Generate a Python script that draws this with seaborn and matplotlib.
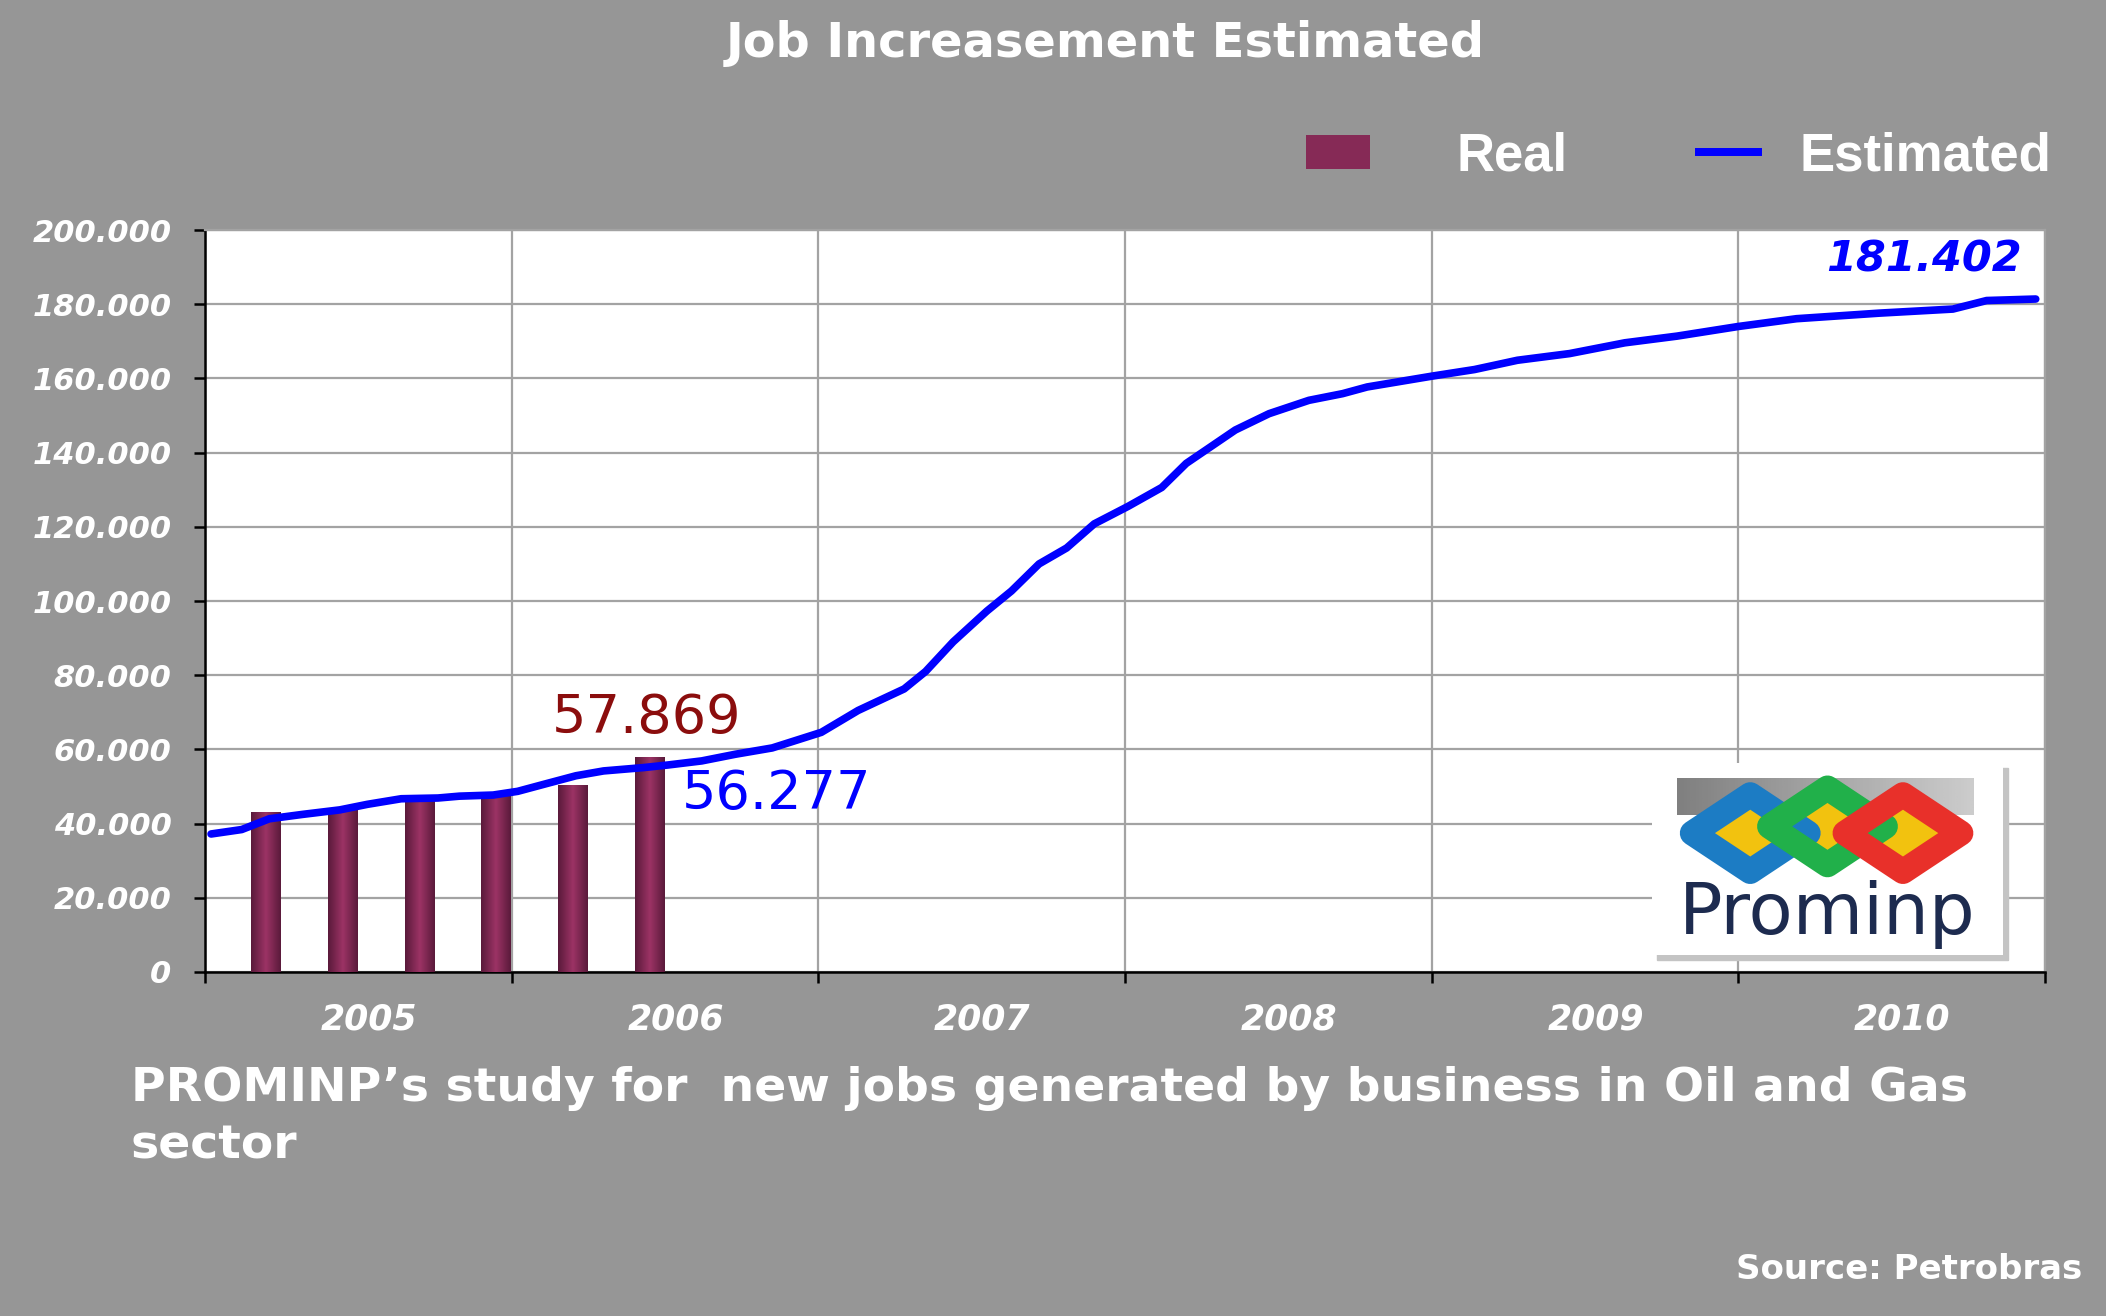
import numpy as np
import matplotlib
matplotlib.use("Agg")
import matplotlib.pyplot as plt
import seaborn as sns
from matplotlib.colors import LinearSegmentedColormap
from matplotlib.patches import Patch, Polygon, Rectangle
from matplotlib.legend_handler import HandlerPatch
from matplotlib.ticker import FuncFormatter

# real jobs, quarterly (2005 Q1 .. 2006 Q2)
real_x = [2005.2, 2005.45, 2005.7, 2005.95, 2006.2, 2006.45]
real_jobs = [43000, 44000, 47600, 48600, 50500, 57869]

# estimated jobs curve
est_x = [2005.02, 2005.12, 2005.21, 2005.32, 2005.44, 2005.53, 2005.64, 2005.76,
         2005.83, 2005.94, 2006.02, 2006.11, 2006.21, 2006.30, 2006.43, 2006.51,
         2006.62, 2006.73, 2006.85, 2007.01, 2007.13, 2007.28, 2007.35, 2007.44,
         2007.55, 2007.63, 2007.72, 2007.81, 2007.90, 2008.01, 2008.12, 2008.20,
         2008.36, 2008.47, 2008.60, 2008.71, 2008.79, 2009.00, 2009.14, 2009.28,
         2009.45, 2009.63, 2009.80, 2010.00, 2010.19, 2010.46, 2010.70, 2010.81,
         2010.97]
est_jobs = [37200, 38400, 41300, 42500, 43700, 45200, 46700, 46900,
            47400, 47700, 48700, 50700, 52900, 54200, 55100, 55800,
            56900, 58700, 60400, 64600, 70500, 76300, 81000, 89000,
            97300, 102700, 110000, 114300, 120800, 125500, 130600, 137100,
            146100, 150500, 154100, 155900, 157700, 160600, 162400, 164900,
            166700, 169600, 171400, 174000, 176100, 177600, 178700, 181000,
            181402]

years = [2005, 2006, 2007, 2008, 2009, 2010]

BG = "#969696"
GRID = "#a3a3a3"
BLUE = "#0000ff"
BAR = "#862a56"

sns.set_theme(style="white")
plt.rcParams["font.family"] = ["DejaVu Sans"]

fig = plt.figure(figsize=(21.06, 13.16), dpi=100, facecolor=BG)
ax = fig.add_axes([0.0973, 0.2614, 0.8737, 0.5638])
ax.set_facecolor("white")

sns.barplot(x=real_x, y=real_jobs, native_scale=True, width=0.385, color=BAR,
            errorbar=None, ax=ax, zorder=3, linewidth=0)
bars = list(ax.patches)
sns.lineplot(x=est_x, y=est_jobs, color=BLUE, lw=5.5, ax=ax, zorder=5)

# shaded look on bars
cmap = LinearSegmentedColormap.from_list("bar", ["#5a1a3b", "#9c3365", "#5a1a3b"])
for p in bars:
    x0, y0, w, h = p.get_x(), p.get_y(), p.get_width(), p.get_height()
    im = ax.imshow(np.linspace(0, 1, 64)[None, :], cmap=cmap, aspect="auto",
                   extent=[x0, x0 + w, y0, y0 + h], zorder=4)
    im.set_clip_path(p)
ax.set_xlim(2005, 2011)
ax.set_ylim(0, 200000)

# axes, grid, ticks
ax.set_yticks(range(0, 200001, 20000))
ax.yaxis.set_major_formatter(FuncFormatter(lambda v, _: f"{v:,.0f}".replace(",", ".")))
ax.set_xticks(years + [2011])
ax.set_xticklabels([])
ax.set_xticks([y + 0.535 for y in years], minor=True)
ax.set_xticklabels([str(y) for y in years], minor=True)
ax.grid(True, which="major", color=GRID, lw=1.6, zorder=0)
ax.set_axisbelow(True)
for s in ["top", "right"]:
    ax.spines[s].set_color(GRID)
    ax.spines[s].set_linewidth(1.6)
for s in ["left", "bottom"]:
    ax.spines[s].set_color("black")
    ax.spines[s].set_linewidth(1.8)
ax.tick_params(axis="y", which="major", left=True, length=8, width=1.8, color="black",
               pad=16, labelsize=22, labelcolor="white")
ax.tick_params(axis="x", which="major", bottom=True, length=8, width=1.8, color="black")
ax.tick_params(axis="x", which="minor", bottom=True, length=0, pad=22,
               labelsize=25, labelcolor="white")
for lab in ax.get_yticklabels() + ax.get_xticklabels(minor=True):
    lab.set_fontweight("bold")
    lab.set_fontstyle("italic")
ax.set_xlabel("")
ax.set_ylabel("")

# value labels
ax.text(2006.44, 68400, "57.869", color="#8b0d0d", fontsize=39, ha="center", va="center")
ax.text(2006.555, 48000, "56.277", color=BLUE, fontsize=39, ha="left", va="center")
ax.text(2010.925, 192000, "181.402", color=BLUE, fontsize=31, fontweight="bold",
        fontstyle="italic", ha="right", va="center")


# legend: bar swatch sits left in its box, line swatch sits right
def real_swatch(legend, orig_handle, xdescent, ydescent, width, height, fontsize):
    return Rectangle((-xdescent, -ydescent), width * 48 / 84, height)


def est_swatch(legend, orig_handle, xdescent, ydescent, width, height, fontsize):
    return Rectangle((-xdescent + width * 34 / 84, -ydescent + height / 2 - 3.2),
                     width * 50 / 84, 6.4)


h_real = Patch(facecolor=BAR, edgecolor="none")
h_est = Patch(facecolor=BLUE, edgecolor="none")
ax.legend([h_real, h_est], ["Real", "Estimated"], loc="center right",
          bbox_to_anchor=(0.974, 0.881), bbox_transform=fig.transFigure, ncol=2,
          frameon=False, prop=dict(family="Liberation Sans", weight="bold", size=38),
          labelcolor="white", handlelength=2.15, handleheight=0.62, handletextpad=0.7,
          columnspacing=1.55, borderpad=0, borderaxespad=0,
          handler_map={h_real: HandlerPatch(patch_func=real_swatch),
                       h_est: HandlerPatch(patch_func=est_swatch)})

# titles
fig.text(0.525, 0.967, "Job Increasement Estimated", color="white", fontsize=34.5,
         fontweight="bold", ha="center", va="center")
fig.text(0.062, 0.1634, "PROMINP\u2019s study for  new jobs generated by business in Oil and Gas",
         color="white", fontsize=34, fontweight="bold", ha="left", va="baseline")
fig.text(0.062, 0.120, "sector", color="white", fontsize=34, fontweight="bold",
         ha="left", va="baseline")
fig.text(0.9886, 0.0357, "Source: Petrobras", color="white", fontsize=24.5,
         fontweight="bold", ha="right", va="center")

# Prominp logo
lax = fig.add_axes([0.7844, 0.2743, 0.1667, 0.1459])
lax.set_xlim(0, 1)
lax.set_ylim(0, 1)
lax.axis("off")
lax.add_patch(Rectangle((0.015, -0.025), 1.0, 1.0, color="#c4c4c4", clip_on=False, zorder=0))
lax.add_patch(Rectangle((0, 0), 1, 1, color="white", zorder=1))
lax.imshow(np.linspace(0.5, 0.8, 100)[None, :], cmap="gray", vmin=0, vmax=1,
           extent=[0.07, 0.915, 0.73, 0.92], aspect="auto", zorder=2)


def diamond(cx, cy, hw=0.165, hh=0.2):
    return [(cx - hw, cy), (cx, cy + hh), (cx + hw, cy), (cx, cy - hh)]


links = [((0.28, 0.635), "#1c7cc4"), ((0.50, 0.67), "#21b04a"), ((0.715, 0.635), "#e8302a")]
for (cx, cy), c in links:
    lax.add_patch(Polygon(diamond(cx, cy), closed=True, facecolor="#f2c20f",
                          edgecolor="none", zorder=3))
for (cx, cy), c in links:
    lax.add_patch(Polygon(diamond(cx, cy), closed=True, facecolor="none", edgecolor=c,
                          lw=18, joinstyle="round", zorder=4))
lax.text(0.5, 0.11, "Prominp", ha="center", va="baseline", fontsize=52,
         color="#1d2b4f", zorder=5)

fig.savefig("out.png", dpi=100, facecolor=BG)
